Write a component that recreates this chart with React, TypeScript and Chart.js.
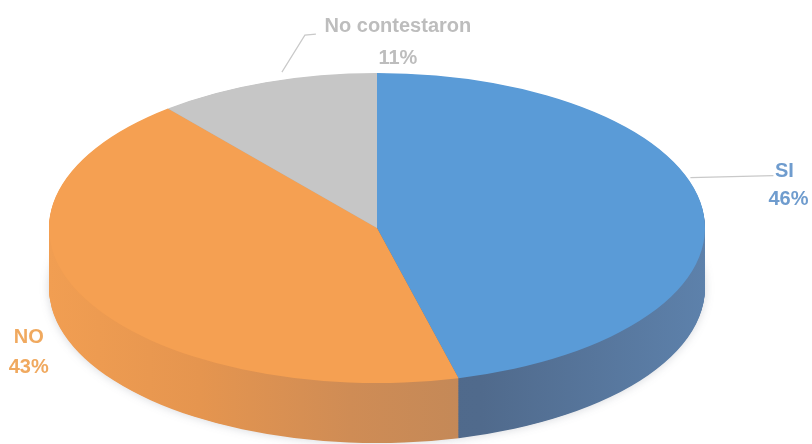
import React, { useEffect, useRef } from 'react';
import { Chart, registerables } from 'chart.js';

Chart.register(...registerables);

// ---- data ----
const categories = ['SI', 'NO', 'No contestaron'];
const percentages = [46, 43, 11];
const percentLabels = ['46%', '43%', '11%'];

// ---- styles ----
const topColors = ['#5a9bd7', '#f5a052', '#c6c6c6'];
const labelColors = ['#6f9cce', '#f0a95f', '#bdbdbd'];

// ellipse geometry of the top face (screen px)
const CX = 377;
const CY = 228;
const RX = 328;
const RY = 155;
const DEPTH = 60;

// label placement, offsets from each slice's mid-angle anchor on the rim
const labelLayout = [
  { name: [82, -37], pct: [86, -9], leader: [[-12, -31], [71, -33]] },
  { name: [-56, 39], pct: [-56, 69], leader: [] as number[][] },
  { name: [132, -56], pct: [132, -24], leader: [[16, -10], [39, -47], [50, -48]] },
];

function sideFills(ctx: CanvasRenderingContext2D, x0: number, x1: number) {
  const orange = ctx.createLinearGradient(x0, 0, x1, 0);
  orange.addColorStop(0, '#f19e52');
  orange.addColorStop(0.23, '#e5954f');
  orange.addColorStop(0.46, '#cf8c55');
  orange.addColorStop(0.66, '#c28858');
  orange.addColorStop(1, '#b88456');
  const blue = ctx.createLinearGradient(x0, 0, x1, 0);
  blue.addColorStop(0, '#4d6686');
  blue.addColorStop(0.66, '#506a8c');
  blue.addColorStop(1, '#5d81ab');
  return [blue, orange, '#a9a9a9'];
}

const pie3d = {
  id: 'pie3d',
  _saved: false,
  beforeDatasetsDraw(chart: any) {
    const meta = chart.getDatasetMeta(0);
    const arcs = meta.data;
    (pie3d as any)._saved = false;
    if (!arcs.length) return;
    const a0 = arcs[0];
    const R = a0.outerRadius;
    if (!R) return;
    const sx = RX / R;
    const sy = RY / R;
    const ctx: CanvasRenderingContext2D = chart.ctx;
    ctx.save();
    (pie3d as any)._saved = true;
    ctx.translate(CX, CY);
    ctx.scale(sx, sy);
    ctx.translate(-a0.x, -a0.y);
    const fills = sideFills(ctx, a0.x - R, a0.x + R);
    const steps = Math.ceil(DEPTH / sy);
    for (let d = steps; d >= 1; d--) {
      ctx.save();
      ctx.translate(0, d);
      if (d === steps) {
        ctx.shadowColor = 'rgba(60,70,90,0.22)';
        ctx.shadowBlur = 10;
      }
      arcs.forEach((arc: any, i: number) => {
        const clone = Object.assign(Object.create(Object.getPrototypeOf(arc)), arc);
        clone.options = { ...arc.options, backgroundColor: fills[i], borderWidth: 0 };
        clone.draw(ctx);
      });
      ctx.restore();
    }
  },
  afterDatasetsDraw(chart: any) {
    const ctx: CanvasRenderingContext2D = chart.ctx;
    if ((pie3d as any)._saved) ctx.restore();
    const arcs = chart.getDatasetMeta(0).data;
    ctx.save();
    arcs.forEach((arc: any, i: number) => {
      const mid = (arc.startAngle + arc.endAngle) / 2;
      const ax = CX + RX * Math.cos(mid);
      const ay = CY + RY * Math.sin(mid);
      const lay = labelLayout[i];
      if (lay.leader.length) {
        ctx.beginPath();
        ctx.strokeStyle = '#c9c9c9';
        ctx.lineWidth = 1.2;
        lay.leader.forEach((p, k) => {
          if (k === 0) ctx.moveTo(ax + p[0], ay + p[1]);
          else ctx.lineTo(ax + p[0], ay + p[1]);
        });
        ctx.stroke();
      }
      ctx.fillStyle = labelColors[i];
      ctx.font = 'bold 20px "Liberation Sans", Arial, sans-serif';
      ctx.textAlign = 'center';
      ctx.textBaseline = 'middle';
      ctx.fillText(categories[i], ax + lay.name[0], ay + lay.name[1]);
      ctx.fillText(percentLabels[i], ax + lay.pct[0], ay + lay.pct[1]);
    });
    ctx.restore();
  },
};

export default function App() {
  const ref = useRef<HTMLCanvasElement>(null);
  useEffect(() => {
    document.body.style.margin = '0';
    const chart = new Chart(ref.current as HTMLCanvasElement, {
      type: 'pie',
      data: {
        labels: categories,
        datasets: [
          {
            data: percentages,
            backgroundColor: topColors,
            borderWidth: 0,
          },
        ],
      },
      options: {
        responsive: false,
        animation: false,
        events: [],
        layout: { padding: 0 },
        plugins: {
          legend: { display: false },
          tooltip: { enabled: false },
          title: { display: false },
        },
      },
      plugins: [pie3d as any],
    });
    return () => chart.destroy();
  }, []);
  return (
    <div style={{ width: 812, height: 444, background: '#ffffff' }}>
      <canvas ref={ref} width={812} height={444} style={{ display: 'block' }} />
    </div>
  );
}
